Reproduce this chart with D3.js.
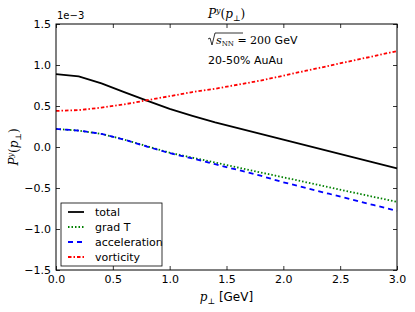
<!DOCTYPE html>
<html>
<head>
<meta charset="utf-8">
<script src="https://cdn.jsdelivr.net/npm/d3@7"></script>
<style>
body { margin: 0; background: #fff; }
text { font-family: "DejaVu Sans", sans-serif; }
.math { font-family: "DejaVu Serif", serif; font-style: italic; }
</style>
</head>
<body>
<div id="chart"></div>
<script>
// pT grid (GeV)
var pt = [0.0, 0.2, 0.4, 0.6, 0.8, 1.0, 1.2, 1.4, 1.6, 1.8, 2.0, 2.2, 2.4, 2.6, 2.8, 3.0];

// values in units of 1e-3
var total = [0.89, 0.86, 0.775, 0.67, 0.565, 0.465, 0.38, 0.30, 0.23, 0.16, 0.09, 0.02, -0.05, -0.12, -0.19, -0.26];
var gradT = [0.22, 0.20, 0.16, 0.09, 0.01, -0.07, -0.13, -0.19, -0.25, -0.31, -0.37, -0.43, -0.49, -0.55, -0.61, -0.67];
var accel = [0.22, 0.20, 0.16, 0.09, 0.005, -0.075, -0.14, -0.21, -0.28, -0.35, -0.43, -0.50, -0.57, -0.64, -0.71, -0.78];
var vort = [0.44, 0.45, 0.48, 0.52, 0.57, 0.62, 0.67, 0.71, 0.76, 0.81, 0.87, 0.93, 0.99, 1.05, 1.11, 1.17];

var xTicks = [0.0, 0.5, 1.0, 1.5, 2.0, 2.5, 3.0];
var yTicks = [-1.5, -1.0, -0.5, 0.0, 0.5, 1.0, 1.5];

var series = [
    { name: "total", values: total, color: "#000000", dash: null },
    { name: "grad T", values: gradT, color: "#008000", dash: "1.5,2" },
    { name: "acceleration", values: accel, color: "#0000ff", dash: "5,4" },
    { name: "vorticity", values: vort, color: "#ff0000", dash: "3.5,2,1.5,2" }
];

var margin = { top: 24, right: 18, bottom: 42, left: 56 };
var width = 415, height = 312;
var w = width - margin.left - margin.right;
var h = height - margin.top - margin.bottom;

var svg = d3.select("#chart").append("svg")
    .attr("width", width)
    .attr("height", height);

var g = svg.append("g")
    .attr("transform", "translate(" + margin.left + "," + margin.top + ")");

var xScale = d3.scaleLinear().domain([0, 3]).range([0, w]);
var yScale = d3.scaleLinear().domain([-1.5, 1.5]).range([h, 0]);

var fmt = d3.format(".1f");
function minusFmt(d) { return fmt(d).replace("-", "\u2212"); }

// axes with inward ticks on all four sides
var xAxis = d3.axisBottom(xScale).tickValues(xTicks).tickFormat(minusFmt).tickSizeInner(-4).tickSizeOuter(0).tickPadding(5);
var xAxisTop = d3.axisTop(xScale).tickValues(xTicks).tickFormat("").tickSizeInner(-4).tickSizeOuter(0);
var yAxis = d3.axisLeft(yScale).tickValues(yTicks).tickFormat(minusFmt).tickSizeInner(-4).tickSizeOuter(0).tickPadding(5);
var yAxisRight = d3.axisRight(yScale).tickValues(yTicks).tickFormat("").tickSizeInner(-4).tickSizeOuter(0);

var gx = g.append("g").attr("transform", "translate(0," + h + ")").call(xAxis);
g.append("g").call(xAxisTop);
var gy = g.append("g").call(yAxis);
g.append("g").attr("transform", "translate(" + w + ",0)").call(yAxisRight);

g.selectAll(".domain").remove();
g.selectAll(".tick line").attr("stroke", "#000").attr("stroke-width", 0.8);
g.selectAll(".tick text").attr("font-size", 11).attr("fill", "#000")
    .style("font-family", "DejaVu Sans, sans-serif");
gy.selectAll(".tick text").attr("dy", "0.35em");

// lines
var line = d3.line()
    .x(function (d, i) { return xScale(pt[i]); })
    .y(function (d) { return yScale(d); });

g.selectAll(".series")
    .data(series)
    .enter()
    .append("path")
    .attr("class", "series")
    .attr("d", function (d) { return line(d.values); })
    .attr("fill", "none")
    .attr("stroke", function (d) { return d.color; })
    .attr("stroke-width", 1.8)
    .attr("stroke-dasharray", function (d) { return d.dash; });

// frame
g.append("rect")
    .attr("width", w).attr("height", h)
    .attr("fill", "none").attr("stroke", "#000").attr("stroke-width", 1);

// offset text
g.append("text").attr("x", 1).attr("y", -5).attr("font-size", 10).text("1e\u22123");

// title
var title = svg.append("text").attr("class", "math")
    .attr("x", margin.left + w / 2).attr("y", 18)
    .attr("text-anchor", "middle").attr("font-size", 12);
title.append("tspan").text("P");
title.append("tspan").attr("font-size", 8).attr("dy", -5).text("y");
title.append("tspan").attr("dy", 5).style("font-style", "normal").text("(");
title.append("tspan").text("p");
title.append("tspan").attr("font-size", 8).attr("dy", 3).style("font-style", "normal").text("\u22A5");
title.append("tspan").attr("dy", -3).style("font-style", "normal").text(")");

// annotations
var ann = svg.append("g").attr("transform", "translate(207,44)");
ann.append("path").attr("d", "M1,-5 L3,-6 L5,1 L8,-11 L36,-11")
    .attr("fill", "none").attr("stroke", "#000").attr("stroke-width", 0.8);
var annT = ann.append("text").attr("x", 9).attr("font-size", 11);
annT.append("tspan").attr("class", "math").text("s");
annT.append("tspan").attr("font-size", 7).attr("dy", 2).style("font-family", "DejaVu Serif, serif").text("NN");
annT.append("tspan").attr("dy", -2).style("font-family", "DejaVu Serif, serif").text(" = 200");
annT.append("tspan").text(" GeV");

svg.append("text").attr("x", 208).attr("y", 64).attr("font-size", 11).text("20-50% AuAu");

// axis labels
var ylab = svg.append("text").attr("class", "math")
    .attr("transform", "translate(18," + (margin.top + h / 2) + ") rotate(-90)")
    .attr("text-anchor", "middle").attr("font-size", 12);
ylab.append("tspan").text("P");
ylab.append("tspan").attr("font-size", 8).attr("dy", -5).text("y");
ylab.append("tspan").attr("dy", 5).style("font-style", "normal").text("(");
ylab.append("tspan").text("p");
ylab.append("tspan").attr("font-size", 8).attr("dy", 3).style("font-style", "normal").text("\u22A5");
ylab.append("tspan").attr("dy", -3).style("font-style", "normal").text(")");

var xlab = svg.append("text")
    .attr("x", margin.left + w / 2).attr("y", 301)
    .attr("text-anchor", "middle").attr("font-size", 12);
xlab.append("tspan").attr("class", "math").text("p");
xlab.append("tspan").attr("font-size", 8).attr("dy", 3).style("font-family", "DejaVu Serif, serif").text("\u22A5");
xlab.append("tspan").attr("dy", -3).text(" [GeV]");

// legend
var legend = svg.append("g").attr("transform", "translate(61,203)");
legend.append("rect").attr("width", 101).attr("height", 63)
    .attr("fill", "#fff").attr("stroke", "#000").attr("stroke-width", 0.8);
var items = legend.selectAll(".item").data(series).enter().append("g")
    .attr("transform", function (d, i) { return "translate(0," + (9 + i * 15) + ")"; });
items.append("line").attr("x1", 7).attr("x2", 23)
    .attr("stroke", function (d) { return d.color; })
    .attr("stroke-width", 1.8)
    .attr("stroke-dasharray", function (d) { return d.dash; });
items.append("text").attr("x", 34).attr("dy", "0.35em").attr("font-size", 11)
    .text(function (d) { return d.name; });
</script>
</body>
</html>
